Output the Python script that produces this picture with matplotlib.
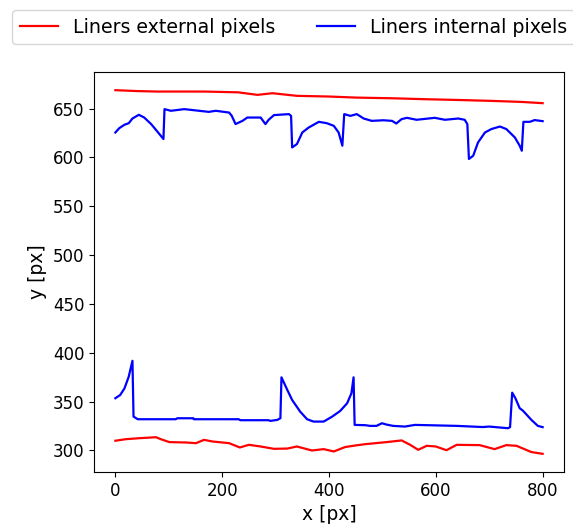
import matplotlib
matplotlib.use("Agg")
import matplotlib.pyplot as plt

# External liner edge (top)
ext_top_x = [0, 40, 79, 166, 230, 266, 294, 340, 400, 452, 520, 577, 640, 701, 760, 800]
ext_top_y = [668.8, 667.9, 667.4, 667.4, 666.6, 664.0, 665.7, 663.0, 662.3, 661.2,
             660.5, 659.6, 658.8, 657.9, 656.8, 655.5]

# External liner edge (bottom)
ext_bot_x = [0, 20, 45, 76, 85, 101, 132, 151, 166, 182, 213, 233, 250, 272, 297,
             322, 340, 368, 390, 409, 430, 449, 468, 508, 536, 552, 567, 583, 600,
             620, 639, 682, 710, 732, 751, 779, 800]
ext_bot_y = [310.0, 311.6, 312.6, 313.6, 311.6, 308.6, 308.2, 307.5, 310.9, 309.2,
             307.5, 303.1, 305.8, 304.1, 301.7, 302.0, 304.1, 300.0, 301.4, 299.0,
             303.5, 305.1, 306.5, 308.6, 310.3, 305.8, 300.7, 304.8, 304.1, 300.3,
             305.8, 305.5, 301.4, 305.5, 304.8, 298.4, 296.6]

# Internal liner edge (top)
int_top_x = [0, 7.5, 17, 25, 32, 44, 54, 67, 79, 90, 92, 104, 129, 157, 175, 188,
             213, 218, 225, 238, 247, 272, 281, 287, 297, 325, 329, 331, 340, 350,
             362, 381, 396, 409, 418, 425, 428.5, 440, 452, 465, 480, 502, 518,
             526, 536, 546, 564, 598, 617, 642, 654, 659, 662, 670, 679, 692, 704,
             720, 732, 748, 757, 761, 764, 776, 785, 800]
int_top_y = [625.5, 630.0, 633.4, 635.0, 639.8, 643.6, 640.8, 634.1, 626.2, 618.8,
             649.4, 647.7, 649.4, 647.7, 646.6, 647.7, 645.9, 642.5, 634.1, 637.4,
             640.8, 640.8, 634.1, 638.5, 643.3, 644.3, 642.5, 610.2, 613.7, 625.5,
             630.6, 636.4, 635.0, 632.3, 625.5, 612.0, 644.3, 642.5, 644.3, 639.8,
             637.4, 638.0, 637.4, 634.7, 639.2, 640.5, 638.5, 640.5, 638.5, 639.8,
             638.5, 634.1, 598.4, 601.7, 615.3, 625.5, 629.0, 631.6, 629.0, 620.4,
             612.0, 606.8, 636.4, 636.4, 638.2, 637.1]

# Internal liner edge (bottom)
int_bot_x = [0, 9, 17, 25, 32, 34, 42, 113, 116, 146, 147, 231, 234, 287, 290, 303,
             309, 311, 322, 331, 346, 359, 371, 390, 406, 421, 434, 442, 446, 448,
             468, 477, 489, 499, 508, 520, 542, 561, 639, 688, 700, 735, 739, 743,
             749, 757, 763, 779, 791, 800]
int_bot_y = [353.5, 356.8, 363.5, 375.5, 391.8, 334.7, 332.0, 332.0, 333.0, 333.0,
             332.0, 332.0, 331.0, 331.0, 330.3, 331.3, 333.0, 374.9, 361.9, 351.7,
             339.8, 332.0, 329.6, 329.6, 334.7, 340.5, 348.4, 358.6, 374.9, 326.2,
             325.9, 325.2, 325.2, 327.9, 326.5, 325.2, 324.5, 326.2, 325.2, 324.0,
             324.5, 322.8, 323.9, 359.2, 353.5, 343.3, 340.8, 331.3, 325.2, 323.9]

fig = plt.figure(figsize=(5.73, 5.27), dpi=100)
ax = fig.add_axes([94 / 573, 55 / 527, 470 / 573, 400 / 527])

lw = 1.6
ax.plot(ext_top_x, ext_top_y, color="red", lw=lw, label="Liners external pixels")
ax.plot(ext_bot_x, ext_bot_y, color="red", lw=lw)
ax.plot(int_top_x, int_top_y, color="blue", lw=lw, label="Liners internal pixels")
ax.plot(int_bot_x, int_bot_y, color="blue", lw=lw)

ax.set_xlabel("x [px]", fontsize=13.5)
ax.set_ylabel("y [px]", fontsize=13.5)
ax.tick_params(labelsize=12)
ax.set_xticks([0, 200, 400, 600, 800])
ax.set_yticks([300, 350, 400, 450, 500, 550, 600, 650])

fig.legend(loc="upper left", bbox_to_anchor=(12 / 573, 1 - 10 / 527),
           borderaxespad=0, ncol=2, fontsize=13.7, columnspacing=2.2)

fig.savefig("out.png", dpi=100)
